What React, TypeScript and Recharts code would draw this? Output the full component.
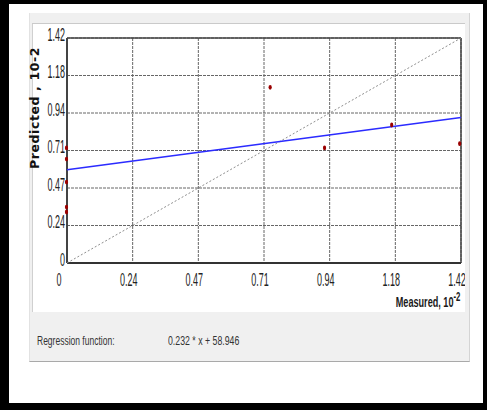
import { ScatterChart, Scatter, XAxis, YAxis, CartesianGrid, ReferenceLine } from "recharts";

// tick labels as printed on both axes
const xLabels = ["0", "0.24", "0.47", "0.71", "0.94", "1.18", "1.42"];
const yLabels = ["0", "0.24", "0.47", "0.71", "0.94", "1.18", "1.42"];
const axisMax = 1.42;
const tickPos = xLabels.map((_, i) => (axisMax * i) / (xLabels.length - 1));

// observations (measured vs predicted, 10^-2)
const measured = [0, 0, 0, 0, 0, 0.734, 0.93, 1.172, 1.417];
const predicted = [0.726, 0.656, 0.511, 0.353, 0.322, 1.109, 0.726, 0.871, 0.753];

// regression line ends and the y = x diagonal
const regX = [0, 1.42];
const regY = [0.589, 0.918];
const diagX = [0, 1.42];
const diagY = [0, 1.42];

const points = measured.map((m, i) => ({ x: m, y: predicted[i] }));
const regData = regX.map((x, i) => ({ x, y: regY[i] }));
const diagData = diagX.map((x, i) => ({ x, y: diagY[i] }));

const tickFont = "'Liberation Sans', Arial, sans-serif";

const XTick = (props: any) => {
  const { x, y, index } = props;
  const dx = index === 0 ? -8 : -4;
  return (
    <text
      transform={`translate(${x + dx},${y + 17}) scale(0.5,1)`}
      textAnchor="middle"
      dominantBaseline="central"
      fontSize={18}
      fontFamily={tickFont}
      fill="#222"
    >
      {xLabels[index]}
    </text>
  );
};

const YTick = (props: any) => {
  const { x, y, index } = props;
  return (
    <text
      transform={`translate(${x - 2},${y - 3.5}) scale(0.5,1)`}
      textAnchor="end"
      dominantBaseline="central"
      fontSize={18}
      fontFamily={tickFont}
      fill="#222"
    >
      {yLabels[index]}
    </text>
  );
};

const Dot = (props: any) => <ellipse cx={props.cx - 0.5} cy={props.cy} rx={1.6} ry={2.4} fill="#9a0000" />;
const NoDot = () => <g />;

const App = () => {
  return (
    <div style={{ position: "absolute", left: 0, top: 0, width: 489, height: 410, background: "#fff", overflow: "hidden" }}>
      {/* black frame */}
      <div
        style={{
          position: "absolute", left: 0, top: 0, width: 487, height: 410, boxSizing: "border-box",
          borderTop: "4px solid #000", borderLeft: "9px solid #000", borderRight: "4px solid #000", borderBottom: "7px solid #000",
        }}
      />
      {/* grey panel */}
      <div
        style={{
          position: "absolute", left: 29, top: 13, width: 441, height: 349, boxSizing: "border-box",
          background: "#f0f0f0", borderRight: "1px solid #d4d4d4", borderBottom: "1px solid #a9a9a9", borderLeft: "1px solid #e2e2e2",
        }}
      />
      <div style={{ position: "absolute", left: 32, top: 23, width: 433, height: 1, background: "#cacaca" }} />
      {/* chart area */}
      <div
        style={{
          position: "absolute", left: 32, top: 24, width: 433, height: 288, background: "#fff",
          borderLeft: "1px solid #d0d0d0", boxSizing: "border-box", overflow: "hidden",
        }}
      >
        <div style={{ position: "absolute", left: -1, top: 1 }}>
          <ScatterChart width={433} height={288} margin={{ top: 13, right: 4, bottom: 0, left: 0 }}>
            <CartesianGrid stroke="#666" strokeDasharray="3 1" />
            <XAxis
              type="number"
              dataKey="x"
              domain={[0, axisMax]}
              ticks={tickPos}
              interval={0}
              height={50}
              tickLine={false}
              tickSize={0}
              tickMargin={0}
              axisLine={{ stroke: "#333", strokeWidth: 2 }}
              tick={XTick}
            />
            <YAxis
              type="number"
              dataKey="y"
              domain={[0, axisMax]}
              ticks={tickPos}
              interval={0}
              width={35}
              tickLine={false}
              tickSize={0}
              tickMargin={0}
              axisLine={{ stroke: "#444", strokeWidth: 2 }}
              tick={YTick}
            />
            <ReferenceLine y={axisMax} stroke="#444" strokeWidth={1.5} />
            <ReferenceLine x={axisMax} stroke="#444" strokeWidth={1.5} />
            <Scatter
              data={diagData}
              line={{ stroke: "#8e8e8e", strokeWidth: 1, strokeDasharray: "2 2" }}
              shape={NoDot}
              isAnimationActive={false}
            />
            <Scatter
              data={regData}
              line={{ stroke: "#2b2bff", strokeWidth: 1.6 }}
              shape={NoDot}
              isAnimationActive={false}
            />
            <Scatter data={points} shape={Dot} isAnimationActive={false} />
          </ScatterChart>
        </div>
        {/* x axis title */}
        <div
          style={{
            position: "absolute", right: 5, top: 266, whiteSpace: "nowrap", transform: "scaleX(0.65)", transformOrigin: "right center",
            fontFamily: "'Liberation Sans', Arial, sans-serif", fontWeight: "bold", fontSize: 14, color: "#1a1a1a",
          }}
        >
          Measured, 10<sup style={{ fontSize: 12, verticalAlign: "6px" }}>-2</sup>
        </div>
      </div>
      {/* y axis title */}
      <div
        style={{
          position: "absolute", left: 34, top: 108, whiteSpace: "nowrap", transform: "translate(-50%,-50%) rotate(-90deg)",
          fontFamily: "'DejaVu Sans', Verdana, sans-serif", fontWeight: "bold", fontSize: 12.5, letterSpacing: 0.6, color: "#111",
        }}
      >
        Predicted , 10-2
      </div>
      {/* regression caption */}
      <div
        style={{
          position: "absolute", left: 37, top: 334, whiteSpace: "nowrap", transform: "scaleX(0.68)", transformOrigin: "left center",
          fontFamily: "'Liberation Sans', Arial, sans-serif", fontSize: 12.5, color: "#333",
        }}
      >
        Regression function:
      </div>
      <div
        style={{
          position: "absolute", left: 168, top: 334, whiteSpace: "nowrap", transform: "scaleX(0.7)", transformOrigin: "left center",
          fontFamily: "'Liberation Sans', Arial, sans-serif", fontSize: 12.5, color: "#333",
        }}
      >
        0.232 * x + 58.946
      </div>
    </div>
  );
};

export default App;
